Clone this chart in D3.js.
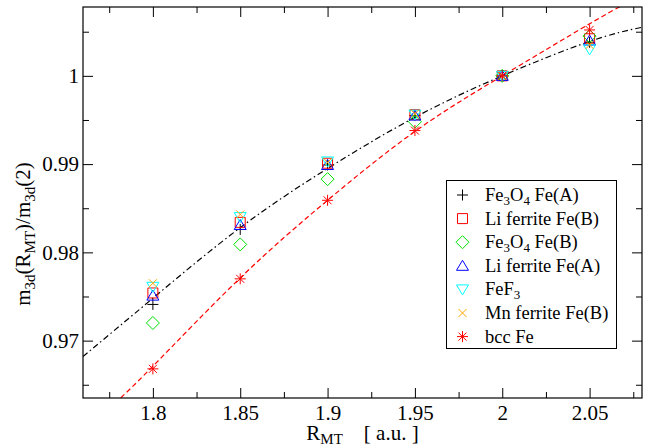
<!DOCTYPE html>
<html>
<head>
<meta charset="utf-8">
<script src="https://cdn.jsdelivr.net/npm/d3@7"></script>
<style>
  body { margin: 0; background: #fff; }
  svg text, svg tspan { font-family: "Liberation Serif" !important; }
</style>
</head>
<body>
<div id="chart"></div>
<script>
// muffin-tin radius (a.u.)
const rValues = [1.8, 1.85, 1.9, 1.95, 2.0, 2.05];

// m3d(R_MT)/m3d(2) for each system
const fe3o4FeA = [0.9741, 0.9826, 0.9899, 0.9955, 1.0, 1.0038];
const liFerriteFeB = [0.9754, 0.9834, 0.9901, 0.9956, 1.0, 1.0042];
const fe3o4FeB = [0.9720, 0.9809, 0.9883, 0.9948, 1.0, 1.0045];
const liFerriteFeA = [0.9751, 0.9831, 0.9899, 0.9955, 1.0, 1.0040];
const feF3 = [0.9761, 0.9840, 0.9903, 0.9956, 1.0, 1.0030];
const mnFerriteFeB = [0.9765, 0.9843, 0.9902, 0.9957, 1.0, 1.0035];
const bccFe = [0.9668, 0.9770, 0.9859, 0.9938, 1.0, 1.0052];

const seriesNames = ['Fe_{3}O_{4} Fe(A)', 'Li ferrite Fe(B)', 'Fe_{3}O_{4} Fe(B)',
  'Li ferrite Fe(A)', 'FeF_{3}', 'Mn ferrite Fe(B)', 'bcc Fe'];

// fitted curves
const fitOxideX = [1.76, 1.8, 1.85, 1.9, 1.95, 2.0, 2.05, 2.08];
const fitOxideY = [0.9682, 0.9748, 0.9828, 0.9895, 0.9953, 1.0, 1.0039, 1.0055];
const fitBccX = [1.775, 1.8, 1.85, 1.9, 1.95, 2.0, 2.05, 2.07];
const fitBccY = [0.9623, 0.9671, 0.9771, 0.9859, 0.9937, 1.0, 1.0059, 1.0081];

const xTickValues = [1.8, 1.85, 1.9, 1.95, 2.0, 2.05];
const xTickLabels = ['1.8', '1.85', '1.9', '1.95', '2', '2.05'];
const xMinorValues = [1.775, 1.825, 1.875, 1.925, 1.975, 2.025, 2.075];
const yTickValues = [0.97, 0.98, 0.99, 1.0];
const yTickLabels = ['0.97', '0.98', '0.99', '1'];
const yMinorValues = [0.965, 0.975, 0.985, 0.995, 1.005];

const width = 648;
const height = 445;
const margin = { top: 7, right: 6, bottom: 47, left: 83 };
const fontName = 'Liberation Serif';

const markerColors = ['#000000', '#ff0000', '#00e000', '#0000ff', '#00ffff', '#ffa500', '#ff0000'];
const markerPaths = [
  'M-5.5,0H5.5M0,-5.5V5.5',
  'M-5,-5H5V5H-5Z',
  'M0,-6.5L6.5,0L0,6.5L-6.5,0Z',
  'M0,-5.5L6,4.5H-6Z',
  'M0,5.5L6,-4.5H-6Z',
  'M-4,-4L4,4M4,-4L-4,4',
  'M-5.5,0H5.5M0,-5.5V5.5M-4,-4L4,4M4,-4L-4,4',
];
const allSeries = [fe3o4FeA, liFerriteFeB, fe3o4FeB, liFerriteFeA, feF3, mnFerriteFeB, bccFe];

const svg = d3.select('#chart')
  .append('svg')
  .attr('width', width)
  .attr('height', height)
  .attr('font-family', fontName);

const x = d3.scaleLinear()
  .domain([1.76, 2.08])
  .range([margin.left, width - margin.right]);

const y = d3.scaleLinear()
  .domain([0.9635, 1.0078])
  .range([height - margin.bottom, margin.top]);

// write text with _{sub} parts as real subscripts
function richText(sel, str, fs, subFs, shift) {
  const parts = str.split(/(_\{[^}]*\})/).filter((p) => p !== '');
  let down = false;
  sel.attr('font-family', fontName);
  parts.forEach((p) => {
    if (p.startsWith('_{')) {
      sel.append('tspan')
        .attr('dy', shift)
        .attr('font-size', subFs)
        .text(p.slice(2, -1));
      down = true;
    } else {
      sel.append('tspan')
        .attr('dy', down ? -shift : 0)
        .attr('font-size', fs)
        .text(p);
      down = false;
    }
  });
}

svg.append('defs')
  .append('clipPath')
  .attr('id', 'plot-clip')
  .append('rect')
  .attr('x', margin.left)
  .attr('y', margin.top)
  .attr('width', width - margin.left - margin.right)
  .attr('height', height - margin.top - margin.bottom);

// fits
const line = d3.line()
  .x((d) => x(d[0]))
  .y((d) => y(d[1]))
  .curve(d3.curveNatural);

const fits = svg.append('g').attr('clip-path', 'url(#plot-clip)');

fits.append('path')
  .datum(fitOxideX.map((v, i) => [v, fitOxideY[i]]))
  .attr('d', line)
  .attr('fill', 'none')
  .attr('stroke', '#000')
  .attr('stroke-width', 1.2)
  .attr('stroke-dasharray', '6,3,1.5,3');

fits.append('path')
  .datum(fitBccX.map((v, i) => [v, fitBccY[i]]))
  .attr('d', line)
  .attr('fill', 'none')
  .attr('stroke', '#ff0000')
  .attr('stroke-width', 1.2)
  .attr('stroke-dasharray', '5,3');

// data markers
allSeries.forEach((vals, s) => {
  svg.append('g')
    .selectAll('path')
    .data(vals)
    .enter()
    .append('path')
    .attr('transform', (d, i) => `translate(${x(rValues[i])},${y(d)})`)
    .attr('d', markerPaths[s])
    .attr('fill', 'none')
    .attr('stroke', markerColors[s])
    .attr('stroke-width', 1);
});

// axes, ticks pointing inward on all four sides
function styleAxis(g) {
  g.attr('font-family', fontName).attr('font-size', 21);
  g.select('.domain').remove();
  g.selectAll('line').attr('stroke', '#000').attr('stroke-width', 1);
  g.selectAll('text').attr('fill', '#000');
}

svg.append('g')
  .attr('transform', `translate(0,${height - margin.bottom})`)
  .call(d3.axisBottom(x).tickValues(xTickValues).tickSize(-10).tickPadding(7)
    .tickFormat((d, i) => xTickLabels[i]))
  .call(styleAxis);
svg.append('g')
  .attr('transform', `translate(0,${height - margin.bottom})`)
  .call(d3.axisBottom(x).tickValues(xMinorValues).tickSize(-6).tickFormat(''))
  .call(styleAxis);
svg.append('g')
  .attr('transform', `translate(0,${margin.top})`)
  .call(d3.axisTop(x).tickValues(xTickValues).tickSize(-10).tickFormat(''))
  .call(styleAxis);
svg.append('g')
  .attr('transform', `translate(0,${margin.top})`)
  .call(d3.axisTop(x).tickValues(xMinorValues).tickSize(-6).tickFormat(''))
  .call(styleAxis);

svg.append('g')
  .attr('transform', `translate(${margin.left},0)`)
  .call(d3.axisLeft(y).tickValues(yTickValues).tickSize(-10).tickPadding(4)
    .tickFormat((d, i) => yTickLabels[i]))
  .call(styleAxis);
svg.append('g')
  .attr('transform', `translate(${margin.left},0)`)
  .call(d3.axisLeft(y).tickValues(yMinorValues).tickSize(-6).tickFormat(''))
  .call(styleAxis);
svg.append('g')
  .attr('transform', `translate(${width - margin.right},0)`)
  .call(d3.axisRight(y).tickValues(yTickValues).tickSize(-10).tickFormat(''))
  .call(styleAxis);
svg.append('g')
  .attr('transform', `translate(${width - margin.right},0)`)
  .call(d3.axisRight(y).tickValues(yMinorValues).tickSize(-6).tickFormat(''))
  .call(styleAxis);

// frame
svg.append('rect')
  .attr('x', margin.left)
  .attr('y', margin.top)
  .attr('width', width - margin.left - margin.right)
  .attr('height', height - margin.top - margin.bottom)
  .attr('fill', 'none')
  .attr('stroke', '#000')
  .attr('stroke-width', 1.2);

// axis titles
const xTitle = svg.append('text')
  .attr('x', (margin.left + width - margin.right) / 2)
  .attr('y', 440)
  .attr('text-anchor', 'middle')
  .attr('fill', '#000');
richText(xTitle, 'R_{MT}\u00a0\u00a0\u00a0\u00a0[ a.u. ]', 21, 15, 4);

const yTitle = svg.append('text')
  .attr('transform', 'translate(30,234) rotate(-90)')
  .attr('text-anchor', 'middle')
  .attr('fill', '#000');
richText(yTitle, 'm_{3d}(R_{MT})/m_{3d}(2)', 21, 15, 5);

// legend
const legend = svg.append('g');
legend.append('rect')
  .attr('x', 446.5)
  .attr('y', 180.5)
  .attr('width', 170)
  .attr('height', 168)
  .attr('fill', '#fff')
  .attr('stroke', '#000')
  .attr('stroke-width', 1);

seriesNames.forEach((name, i) => {
  const cy = 195 + i * 23.6;
  legend.append('path')
    .attr('transform', `translate(462.5,${cy})`)
    .attr('d', markerPaths[i])
    .attr('fill', 'none')
    .attr('stroke', markerColors[i])
    .attr('stroke-width', 1);
  const t = legend.append('text')
    .attr('x', 485)
    .attr('y', cy + 6)
    .attr('fill', '#000');
  richText(t, name, 18.5, 13, 4);
});
</script>
</body>
</html>
